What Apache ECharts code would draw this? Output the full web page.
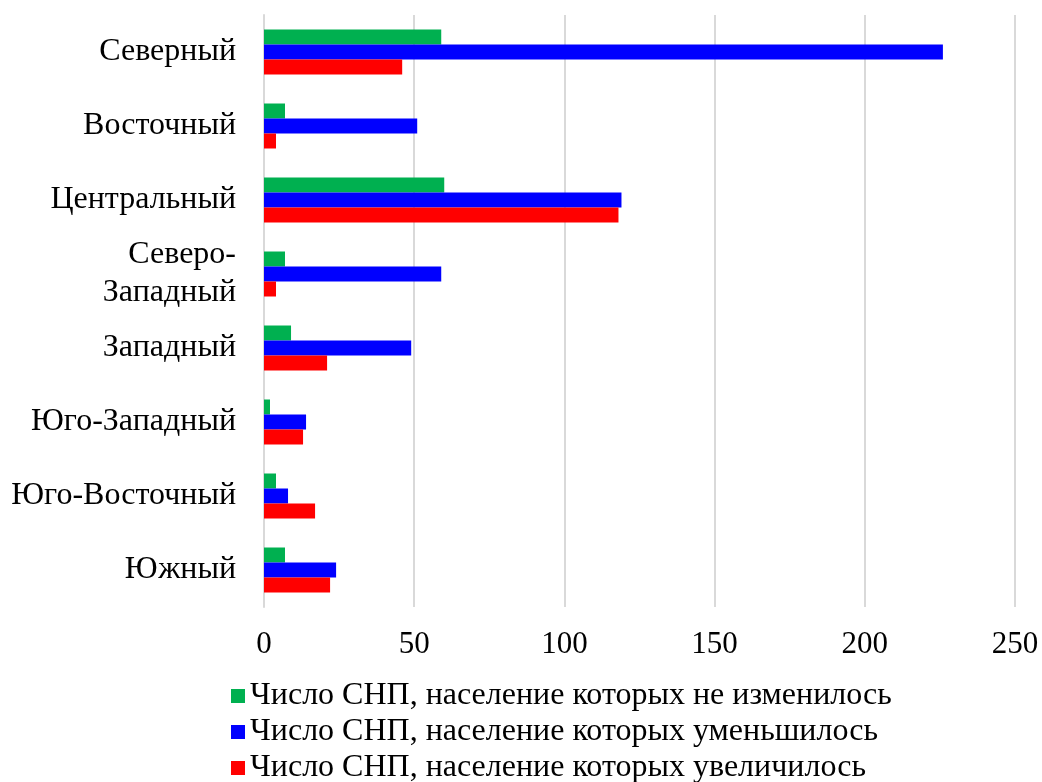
<!DOCTYPE html>
<html>
<head>
<meta charset="utf-8">
<script src="https://cdn.jsdelivr.net/npm/echarts@6/dist/echarts.min.js"></script>
<style>
  html, body { margin: 0; padding: 0; background: #fff; }
  #chart { width: 1042px; height: 782px; }
</style>
</head>
<body>
<div id="chart"></div>
<script>
// regions, top to bottom
var regions = ['Северный', 'Восточный', 'Центральный', 'Северо-\nЗападный', 'Западный', 'Юго-Западный', 'Юго-Восточный', 'Южный'];
var seriesNames = [
  'Число СНП, население которых не изменилось',
  'Число СНП, население которых уменьшилось',
  'Число СНП, население которых увеличилось'
];
var unchanged = [59, 7, 60, 7, 9, 2, 4, 7];
var decreased = [226, 51, 119, 59, 49, 14, 8, 24];
var increased = [46, 4, 118, 4, 21, 13, 17, 22];
var colors = ['#00b050', '#0000ff', '#ff0000'];

var font = 'Liberation Serif, Times New Roman, serif';
var chart = echarts.init(document.getElementById('chart'));

function bar(name, data, color) {
  return {
    name: name,
    type: 'bar',
    data: data,
    barWidth: 15,
    barGap: '0%',
    itemStyle: { color: color },
    animation: false
  };
}

chart.setOption({
  textStyle: { fontFamily: font },
  grid: { left: 264, right: 27, top: 15, bottom: 175 },
  xAxis: {
    type: 'value',
    min: 0,
    max: 250,
    interval: 50,
    axisLine: { show: false },
    axisTick: { show: false },
    axisLabel: { fontSize: 31, color: '#000', fontFamily: font, margin: 22 },
    splitLine: { lineStyle: { color: '#d9d9d9', width: 2 } }
  },
  yAxis: {
    type: 'category',
    inverse: true,
    data: regions,
    axisLine: { lineStyle: { color: '#d9d9d9', width: 2 } },
    axisTick: { show: false },
    axisLabel: { fontSize: 32, color: '#000', fontFamily: font, margin: 28, lineHeight: 38 }
  },
  legend: {
    orient: 'vertical',
    left: 226,
    top: 675,
    height: 200,
    itemWidth: 14,
    itemHeight: 14,
    itemGap: 4,
    icon: 'rect',
    textStyle: { fontSize: 32, color: '#000', fontFamily: font, lineHeight: 32 },
    data: seriesNames
  },
  series: [
    bar(seriesNames[0], unchanged, colors[0]),
    bar(seriesNames[1], decreased, colors[1]),
    bar(seriesNames[2], increased, colors[2])
  ]
});
</script>
</body>
</html>
